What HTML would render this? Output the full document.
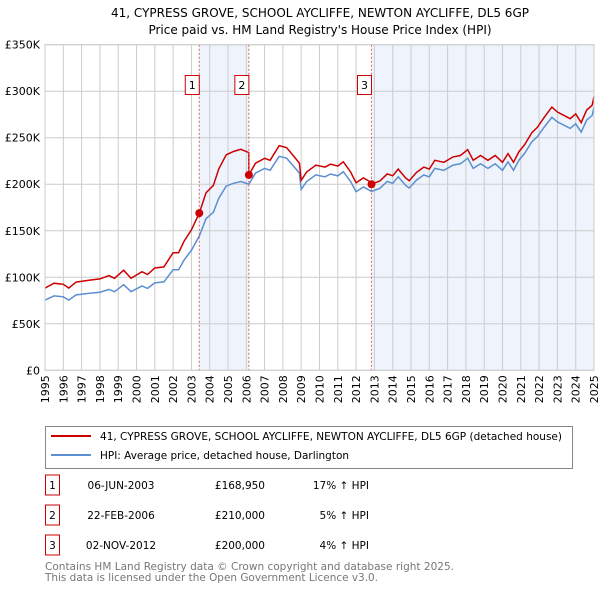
<!DOCTYPE html>
<html><head><meta charset="utf-8"><style>
body{margin:0;background:#fff;font-family:"DejaVu Sans","Liberation Sans",sans-serif;}
svg text{font-family:"DejaVu Sans","Liberation Sans",sans-serif;}
</style></head><body>
<svg id="c" width="600" height="590" xmlns="http://www.w3.org/2000/svg">
<text x="320" y="17" font-size="12" text-anchor="middle">41, CYPRESS GROVE, SCHOOL AYCLIFFE, NEWTON AYCLIFFE, DL5 6GP</text>
<text x="320" y="34" font-size="12" text-anchor="middle">Price paid vs. HM Land Registry's House Price Index (HPI)</text>
<g id="plot"></g>
<g>
<rect x="45.5" y="426.5" width="527" height="42" fill="#fff" stroke="#888"/>
<line x1="51" y1="436" x2="91" y2="436" stroke="#cc0000" stroke-width="2"/>
<text x="100" y="440" font-size="10.5" textLength="462" lengthAdjust="spacingAndGlyphs">41, CYPRESS GROVE, SCHOOL AYCLIFFE, NEWTON AYCLIFFE, DL5 6GP (detached house)</text>
<line x1="51" y1="455" x2="91" y2="455" stroke="#5b8fd0" stroke-width="2"/>
<text x="100" y="459" font-size="10.5" textLength="249" lengthAdjust="spacingAndGlyphs">HPI: Average price, detached house, Darlington</text>
</g>
<g id="table" font-size="10.5"></g>
<text x="45" y="570" font-size="10.5" fill="#777" textLength="409" lengthAdjust="spacingAndGlyphs">Contains HM Land Registry data © Crown copyright and database right 2025.</text>
<text x="45" y="581" font-size="10.5" fill="#777" textLength="333" lengthAdjust="spacingAndGlyphs">This data is licensed under the Open Government Licence v3.0.</text>
</svg>
<script>
const hpiT=[1995.0,1995.5,1996.0,1996.3,1996.7,1997.5,1998.0,1998.5,1998.8,1999.3,1999.7,2000.3,2000.6,2001.0,2001.5,2002.0,2002.3,2002.6,2003.0,2003.43,2003.8,2004.2,2004.5,2004.9,2005.3,2005.7,2006.14,2006.5,2007.0,2007.3,2007.8,2008.2,2008.6,2008.9,2009.0,2009.3,2009.8,2010.3,2010.6,2011.0,2011.3,2011.7,2012.0,2012.4,2012.84,2013.3,2013.7,2014.0,2014.3,2014.7,2014.9,2015.3,2015.7,2016.0,2016.3,2016.8,2017.3,2017.7,2018.1,2018.4,2018.8,2019.2,2019.6,2020.0,2020.3,2020.6,2020.9,2021.2,2021.6,2021.9,2022.3,2022.7,2023.0,2023.4,2023.7,2024.0,2024.3,2024.6,2024.9,2025.0];
const hpiV=[75.5,80,79,75.5,81,83,84,87,84.5,92,84.5,90.6,88,94,95,108,108,118.6,129,144.4,163,170,185,198,201,203,200,212,217,215,230,228,219,212,194.5,203,210,208,211,209,213.5,203,192,197,192.3,195.6,203,201,208,199,196,204.5,210,208,217,215,220.6,222,228,217,222,217,222,215,224,215,226,233,245.6,251,262,272,267,263,260,265,256,269,274,283];
const saleT=[2003.43,2006.14,2012.84];
const saleV=[168950,210000,200000];
const saleLabels=["06-JUN-2003","22-FEB-2006","02-NOV-2012"];
const salePrices=["£168,950","£210,000","£200,000"];
const salePct=["17% ↑ HPI","5% ↑ HPI","4% ↑ HPI"];
const yTicks=[0,50000,100000,150000,200000,250000,300000,350000];
const yTickLabels=["£0","£50K","£100K","£150K","£200K","£250K","£300K","£350K"];
const NS="http://www.w3.org/2000/svg";
const L=45,R=594,T=44.7,B=370.3;
const X=t=>L+(t-1995)/30*(R-L);
const Y=v=>B-v/350000*(B-T);
const g=document.getElementById('plot');
function el(tag,a,p){const e=document.createElementNS(NS,tag);for(const k in a)e.setAttribute(k,a[k]);(p||g).appendChild(e);return e;}
let s=el('rect',{x:X(saleT[0]),y:T,width:X(saleT[1])-X(saleT[0]),height:B-T,fill:'#eef3fc'});


s=el('rect',{x:X(saleT[2]),y:T,width:R-X(saleT[2]),height:B-T,fill:'#eef3fc'});


for(let yr=1995;yr<=2025;yr++){
 let ln=el('line',{x1:X(yr),x2:X(yr),y1:T,y2:B,stroke:'#ccc','stroke-width':1});
 
 
 let tx=el('text',{x:0,y:0,'font-size':11,'text-anchor':'end',transform:`translate(${X(yr)+4},${B+5}) rotate(-90)`});
 tx.textContent=yr;
 
 
}
yTicks.forEach((v,i)=>{
 let ln=el('line',{x1:L,x2:R,y1:Y(v),y2:Y(v),stroke:'#ccc','stroke-width':1});
 
 
 let tx=el('text',{x:L-5,y:Y(v)+4,'font-size':11,'text-anchor':'end'});
 tx.textContent=yTickLabels[i];
 
 
});
function hpiAt(t){for(let i=0;i<hpiT.length-1;i++){if(t<=hpiT[i+1]){const f=(t-hpiT[i])/(hpiT[i+1]-hpiT[i]);return hpiV[i]+f*(hpiV[i+1]-hpiV[i]);}}return hpiV[hpiV.length-1];}
let bp=hpiT.map((t,i)=>(i?'L':'M')+X(t).toFixed(1)+','+Y(hpiV[i]*1000).toFixed(1)).join('');
let hp=el('path',{d:bp,fill:'none',stroke:'#5b8fd0','stroke-width':1.5});


function factor(t){let k=0;for(let i=0;i<saleT.length;i++)if(t>=saleT[i])k=i;return saleV[k]/(hpiAt(saleT[k])*1000);}
let pts=[];hpiT.forEach((t,i)=>pts.push([t,hpiV[i]*1000*factor(t)]));
saleT.forEach((st,j)=>{if(j>0){const f0=saleV[j-1]/(hpiAt(saleT[j-1])*1000);pts.push([st-0.001,hpiAt(st)*1000*f0]);}});
pts.sort((a,b)=>a[0]-b[0]);
let rd=pts.map((p,i)=>(i?'L':'M')+X(p[0]).toFixed(1)+','+Y(p[1]).toFixed(1)).join('');
let rp=el('path',{d:rd,fill:'none',stroke:'#cc0000','stroke-width':1.5});


saleT.forEach((t,i)=>{
 let ln=el('line',{x1:X(t),x2:X(t),y1:T,y2:B,stroke:'#e06060','stroke-width':1,'stroke-dasharray':'2,2'});
 
 
 let c=el('circle',{cx:X(t),cy:Y(saleV[i]),r:4,fill:'#cc0000'});
 
 
 let b=el('rect',{x:X(t)-14,y:75.5,width:14,height:19,fill:'#fff',stroke:'#cc0000'});
 
 
 let tx=el('text',{x:X(t)-7,y:89,'font-size':11,'text-anchor':'middle'});
 tx.textContent=i+1;
 
 
});
let bd=el('rect',{x:L,y:T,width:R-L,height:B-T,fill:'none',stroke:'#ccc'});


const tg=document.getElementById('table');
const rowY=[483,513,543];
saleLabels.forEach((d,i)=>{
 let b=el('rect',{x:45.5,y:rowY[i]-8,width:14,height:20,fill:'#fff',stroke:'#cc0000'},tg);
 
 
 let n=el('text',{x:52.5,y:rowY[i]+6,'text-anchor':'middle'},tg);n.textContent=i+1;
 
 
 let a=el('text',{x:121,y:rowY[i]+6,'text-anchor':'middle'},tg);a.textContent=d;
 
 
 let p=el('text',{x:265,y:rowY[i]+6,'text-anchor':'end'},tg);p.textContent=salePrices[i];
 
 
 let q=el('text',{x:369,y:rowY[i]+6,'text-anchor':'end'},tg);q.textContent=salePct[i];
 
 
});
</script>
</body></html>
